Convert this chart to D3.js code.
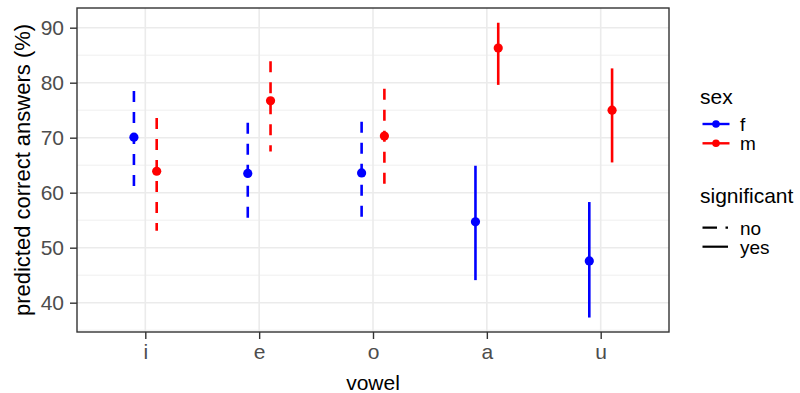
<!DOCTYPE html>
<html>
<head>
<meta charset="utf-8">
<script src="https://cdn.jsdelivr.net/npm/d3@7"></script>
<style>
  body { margin: 0; background: #fff; }
  text { font-family: "Liberation Sans", Arial, sans-serif; }
</style>
</head>
<body>
<div id="chart"></div>
<script>
// chart data
const vowels = ['i', 'e', 'o', 'a', 'u'];
const sexes = ['f', 'm'];
const estF = [70.1, 63.5, 63.6, 54.7, 47.6];
const lowF = [60.3, 54.6, 54.8, 44.1, 37.3];
const highF = [78.5, 72.7, 72.9, 64.9, 58.3];
const estM = [63.9, 76.7, 70.3, 86.3, 75.0];
const lowM = [53.1, 67.5, 60.8, 79.6, 65.5];
const highM = [73.6, 83.9, 78.9, 90.9, 82.6];
const sigF = ['no', 'no', 'no', 'yes', 'yes'];
const sigM = ['no', 'no', 'no', 'yes', 'yes'];
const yTicks = [40, 50, 60, 70, 80, 90];
const yMinor = [35, 45, 55, 65, 75, 85];

const width = 800, height = 393;
const panel = { left: 77, right: 669, top: 8, bottom: 332 };
const colors = { f: '#0000FF', m: '#FF0000' };
const dashes = { no: '11,10', yes: null };

// one row per point
const rows = [];
vowels.forEach((v, i) => {
  rows.push({ vowel: v, sex: 'f', est: estF[i], low: lowF[i], high: highF[i], sig: sigF[i] });
  rows.push({ vowel: v, sex: 'm', est: estM[i], low: lowM[i], high: highM[i], sig: sigM[i] });
});

const svg = d3.select('#chart').append('svg')
  .attr('width', width).attr('height', height);

const x = d3.scalePoint().domain(vowels).range([panel.left, panel.right]).padding(0.6);
const y = d3.scaleLinear().domain([34.67, 93.58]).range([panel.bottom, panel.top]);
const dodge = x.step() * 0.1;
const px = d => x(d.vowel) + (d.sex === 'f' ? -dodge : dodge);

// grid
const grid = svg.append('g');
grid.selectAll('.minor').data(yMinor).join('line')
  .attr('x1', panel.left).attr('x2', panel.right)
  .attr('y1', d => y(d)).attr('y2', d => y(d))
  .attr('stroke', '#EBEBEB').attr('stroke-width', 0.8);
grid.selectAll('.majy').data(yTicks).join('line')
  .attr('x1', panel.left).attr('x2', panel.right)
  .attr('y1', d => y(d)).attr('y2', d => y(d))
  .attr('stroke', '#EBEBEB').attr('stroke-width', 1.6);
grid.selectAll('.majx').data(vowels).join('line')
  .attr('x1', d => x(d)).attr('x2', d => x(d))
  .attr('y1', panel.top).attr('y2', panel.bottom)
  .attr('stroke', '#EBEBEB').attr('stroke-width', 1.6);

// ranges, drawn top to bottom so the dash pattern starts at the top
svg.append('g').selectAll('line').data(rows).join('line')
  .attr('x1', px).attr('x2', px)
  .attr('y1', d => y(d.high)).attr('y2', d => y(d.low))
  .attr('stroke', d => colors[d.sex])
  .attr('stroke-width', 2.6)
  .attr('stroke-dasharray', d => dashes[d.sig]);

svg.append('g').selectAll('circle').data(rows).join('circle')
  .attr('cx', px).attr('cy', d => y(d.est))
  .attr('r', 4.6)
  .attr('fill', d => colors[d.sex]);

// panel border
svg.append('rect')
  .attr('x', panel.left).attr('y', panel.top)
  .attr('width', panel.right - panel.left).attr('height', panel.bottom - panel.top)
  .attr('fill', 'none').attr('stroke', '#333333').attr('stroke-width', 1.4);

// axes
const yAxis = svg.append('g')
  .attr('transform', `translate(${panel.left},0)`)
  .call(d3.axisLeft(y).tickValues(yTicks).tickSize(7).tickPadding(6));
const xAxis = svg.append('g')
  .attr('transform', `translate(0,${panel.bottom})`)
  .call(d3.axisBottom(x).tickSize(7).tickPadding(5));
[yAxis, xAxis].forEach(a => {
  a.select('.domain').remove();
  a.selectAll('.tick line').attr('stroke', '#333333').attr('stroke-width', 1.4);
  a.selectAll('.tick text')
    .attr('fill', '#4D4D4D')
    .style('font-family', '"Liberation Sans", Arial, sans-serif')
    .style('font-size', '21px');
});

svg.append('text')
  .attr('x', (panel.left + panel.right) / 2).attr('y', 390)
  .attr('text-anchor', 'middle')
  .style('font-size', '21px')
  .text('vowel');

svg.append('text')
  .attr('transform', `translate(30,${(panel.top + panel.bottom) / 2}) rotate(-90)`)
  .attr('text-anchor', 'middle')
  .style('font-size', '22px')
  .text('predicted correct answers (%)');

// legends
const lg = svg.append('g');
lg.append('text').attr('x', 700).attr('y', 104).style('font-size', '21px').text('sex');
const sexRows = [124, 143.3];
sexes.forEach((s, i) => {
  const g = lg.append('g').attr('transform', `translate(0,${sexRows[i]})`);
  g.append('line').attr('x1', 702.5).attr('x2', 729.5)
    .attr('stroke', colors[s]).attr('stroke-width', 2.4);
  g.append('circle').attr('cx', 716).attr('r', 3.8).attr('fill', colors[s]);
  g.append('text').attr('x', 740).attr('y', 6.8).style('font-size', '19px').text(s);
});

lg.append('text').attr('x', 700).attr('y', 203).style('font-size', '21px').text('significant');
const sigRows = [['no', 227.7, '14.5,8.5'], ['yes', 246.7, null]];
sigRows.forEach(([lab, yy, dash]) => {
  const g = lg.append('g').attr('transform', `translate(0,${yy})`);
  g.append('line').attr('x1', 702.5).attr('x2', 728)
    .attr('stroke', '#000').attr('stroke-width', 2.2)
    .attr('stroke-dasharray', dash);
  g.append('text').attr('x', 740).attr('y', 6.8).style('font-size', '19px').text(lab);
});
</script>
</body>
</html>
